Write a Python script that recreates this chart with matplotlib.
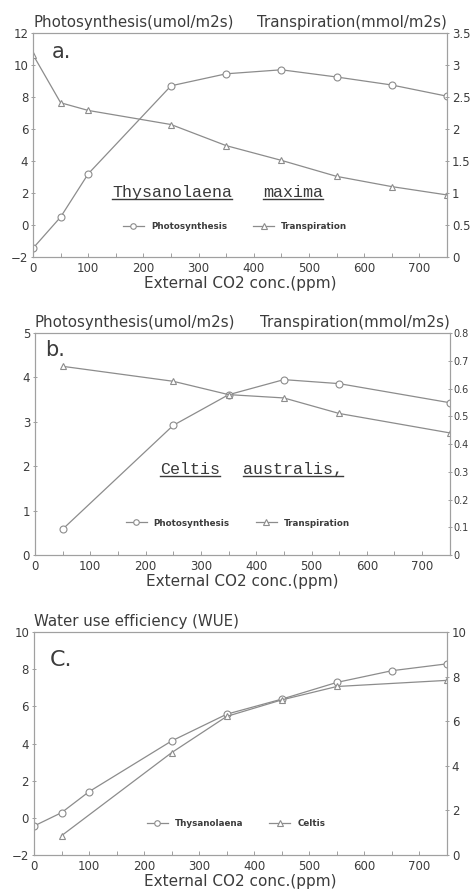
import numpy as np
import matplotlib
matplotlib.use('Agg')
import matplotlib.pyplot as plt
from matplotlib.lines import Line2D

# CO2 levels (ppm)
co2_a = [0, 50, 100, 250, 350, 450, 550, 650, 750]
co2_b = [50, 250, 350, 450, 550, 750]

# a. Thysanolaena maxima
photo_a = [-1.45, 0.5, 3.2, 8.7, 9.45, 9.7, 9.25, 8.75, 8.05]
transp_a = [3.16, 2.41, 2.29, 2.07, 1.74, 1.51, 1.26, 1.10, 0.97]

# b. Celtis australis
photo_b = [0.58, 2.92, 3.61, 3.95, 3.86, 3.43]
transp_b = [0.68, 0.626, 0.578, 0.566, 0.51, 0.44]

# c. water use efficiency
wue_thy = [-0.44, 0.28, 1.41, 4.14, 5.58, 6.39, 7.29, 7.92, 8.29]
wue_cel = [-0.96, 3.51, 5.46, 6.35, 7.07, 7.40]

LINE = '#8c8c8c'
TXT = '#3c3c3c'
SPINE = '#a0a0a0'

plt.rcParams['font.family'] = 'DejaVu Sans'
plt.rcParams['text.color'] = TXT

fig = plt.figure(figsize=(4.72, 8.94), dpi=100)


def style(ax):
    for s in ax.spines.values():
        s.set_color(SPINE)
        s.set_linewidth(0.8)
    ax.tick_params(axis='both', colors=SPINE, labelcolor=TXT, labelsize=8.5,
                   length=3, width=0.7)
    ax.tick_params(axis='x', direction='in')
    ax.tick_params(axis='y', direction='inout', pad=2)


def base_axes(rect, ylim, yticks):
    ax = fig.add_axes(rect)
    ax.set_xlim(0, 750)
    ax.set_xticks(np.arange(0, 800, 100))
    ax.set_xticks(np.arange(50, 800, 100), minor=True)
    ax.tick_params(axis='x', which='minor', direction='in', length=3,
                   color=SPINE, width=0.7)
    ax.set_ylim(*ylim)
    ax.set_yticks(yticks)
    style(ax)
    ax.set_xlabel('External CO2 conc.(ppm)', fontsize=11, color=TXT, labelpad=1)
    return ax


def species(ax, x1, x2, y, w1, w2):
    t1 = ax.text(x1, y, w1, transform=ax.transAxes, ha='left', va='center',
                 family='Liberation Mono', fontsize=12, color='#3a3a3a')
    t2 = ax.text(x2, y, w2, transform=ax.transAxes, ha='left', va='center',
                 family='Liberation Mono', fontsize=12, color='#3a3a3a')
    return [t1, t2]


mk = dict(color=LINE, lw=0.9, markersize=5, markerfacecolor='white',
          markeredgecolor=LINE, markeredgewidth=0.8)
leg_kw = dict(loc='center', ncol=2, frameon=False, handlelength=2.4,
              columnspacing=3.0, markerscale=0.8,
              prop={'weight': 'bold', 'size': 6.3})

# ---- panel a
axa = base_axes([0.070, 0.7125, 0.877, 0.2506], (-2, 12), np.arange(-2, 13, 2))
axa2 = axa.twinx()
axa2.set_ylim(0, 3.5)
axa2.set_yticks(np.arange(0, 3.6, 0.5))
axa2.set_yticklabels(['0', '0.5', '1', '1.5', '2', '2.5', '3', '3.5'])
style(axa2)
la1, = axa.plot(co2_a, photo_a, marker='o', label='Photosynthesis', **mk)
la2, = axa2.plot(co2_a, transp_a, marker='^', label='Transpiration', **mk)
axa.text(0.0, 1.012, 'Photosynthesis(umol/m2s)', transform=axa.transAxes,
         fontsize=10.8, ha='left', va='bottom')
axa.text(1.0, 1.012, 'Transpiration(mmol/m2s)', transform=axa.transAxes,
         fontsize=10.8, ha='right', va='bottom')
axa.text(0.046, 0.915, 'a.', transform=axa.transAxes, fontsize=15, va='center')
sp_a = species(axa, 0.191, 0.556, 0.29, 'Thysanolaena', 'maxima')
axa.legend(handles=[la1, la2], bbox_to_anchor=(0.488, 0.138), **leg_kw)

# ---- panel b
axb = base_axes([0.074, 0.3792, 0.879, 0.2483], (0, 5), np.arange(0, 6, 1))
axb2 = axb.twinx()
axb2.set_ylim(0, 0.8)
axb2.set_yticks(np.arange(0, 0.81, 0.1))
axb2.set_yticklabels(['0', '0.1', '0.2', '0.3', '0.4', '0.5', '0.6', '0.7', '0.8'])
style(axb2)
axb2.tick_params(axis='y', labelsize=7, pad=1)
lb1, = axb.plot(co2_b, photo_b, marker='o', label='Photosynthesis', **mk)
lb2, = axb2.plot(co2_b, transp_b, marker='^', label='Transpiration', **mk)
axb.text(0.0, 1.012, 'Photosynthesis(umol/m2s)', transform=axb.transAxes,
         fontsize=10.8, ha='left', va='bottom')
axb.text(1.0, 1.012, 'Transpiration(mmol/m2s)', transform=axb.transAxes,
         fontsize=10.8, ha='right', va='bottom')
axb.text(0.024, 0.923, 'b.', transform=axb.transAxes, fontsize=15, va='center')
sp_b = species(axb, 0.301, 0.501, 0.383, 'Celtis', 'australis,')
axb.legend(handles=[lb1, lb2], bbox_to_anchor=(0.489, 0.144), **leg_kw)

# ---- panel c
axc = base_axes([0.072, 0.0436, 0.875, 0.2494], (-2, 10), np.arange(-2, 11, 2))
axc2 = axc.twinx()
axc2.set_ylim(0, 10)
axc2.set_yticks(np.arange(0, 11, 2))
style(axc2)
lc1, = axc.plot(co2_a, wue_thy, marker='o', label='Thysanolaena', **mk)
lc2, = axc.plot(co2_b, wue_cel, marker='^', label='Celtis', **mk)
axc.text(0.0, 1.012, 'Water use efficiency (WUE)', transform=axc.transAxes,
         fontsize=10.8, ha='left', va='bottom')
axc.text(0.039, 0.874, 'C.', transform=axc.transAxes, fontsize=16, va='center')
axc.legend(handles=[lc1, lc2], bbox_to_anchor=(0.489, 0.143), **leg_kw)

# underline the species names
fig.canvas.draw()
r = fig.canvas.get_renderer()
for t in sp_a + sp_b:
    bb = t.get_window_extent(r)
    x0, y0 = fig.transFigure.inverted().transform((bb.x0, bb.y0 + 1))
    x1, _ = fig.transFigure.inverted().transform((bb.x1, bb.y0 + 1))
    fig.add_artist(Line2D([x0, x1], [y0, y0], color='#3a3a3a', lw=1.0,
                          transform=fig.transFigure))

fig.savefig('out.png', dpi=100)
